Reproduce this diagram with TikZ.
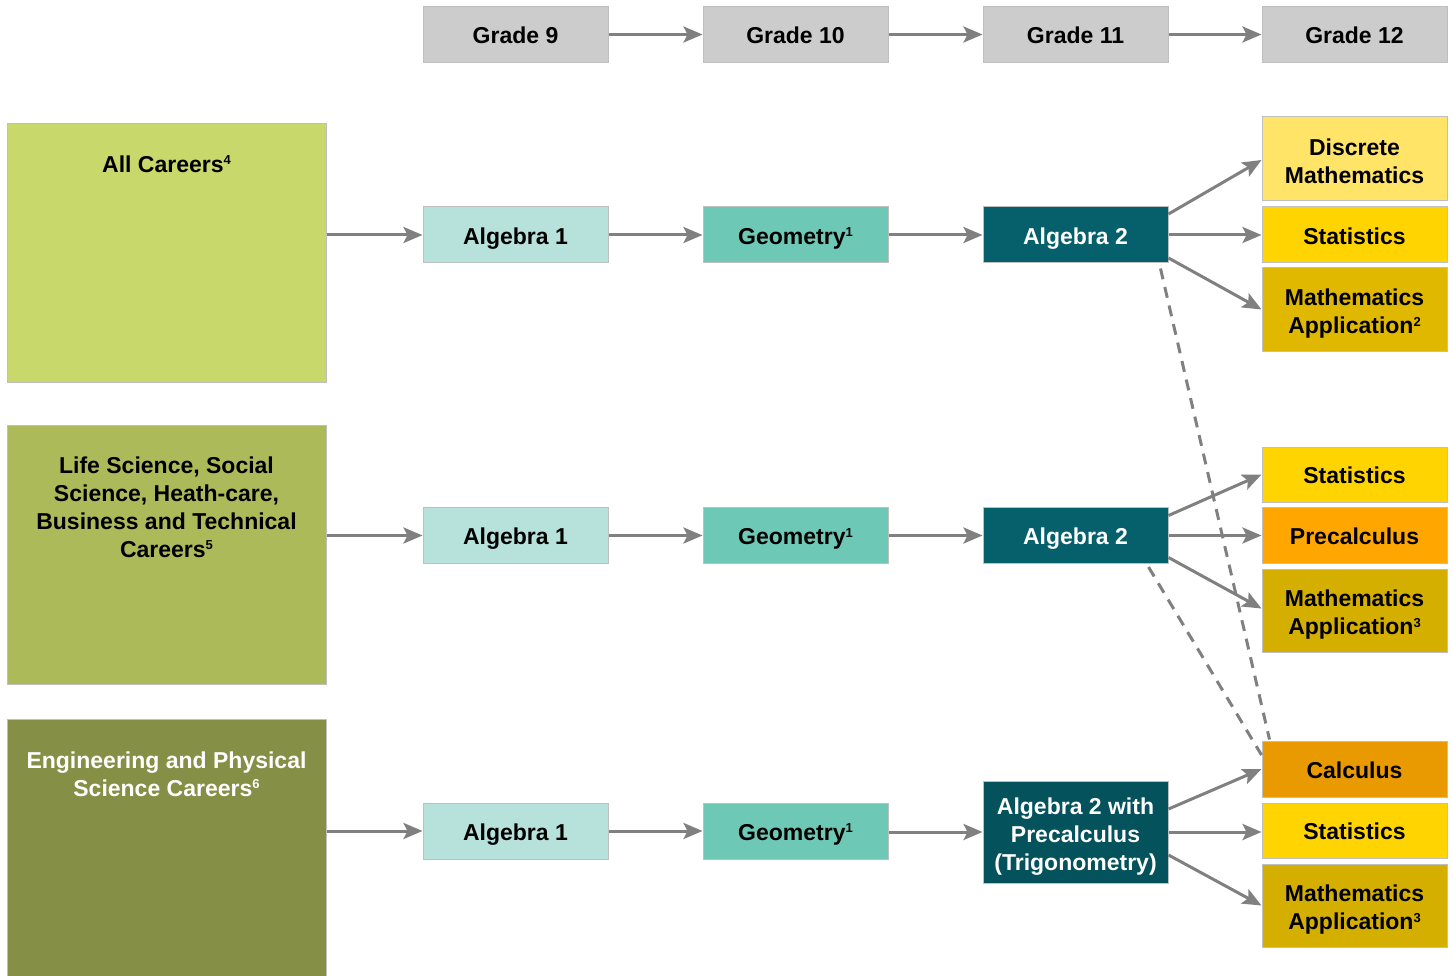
\documentclass[tikz,border=0pt]{standalone}
\usepackage{fontspec}
\setmainfont{Liberation Sans}
\usetikzlibrary{arrows.meta,calc}
\definecolor{gradegray}{HTML}{CCCCCC}
\definecolor{boxline}{HTML}{BFBFBF}
\definecolor{arrowgray}{HTML}{808080}
\definecolor{careerA}{HTML}{C8D86A}
\definecolor{careerB}{HTML}{ADBA5A}
\definecolor{careerC}{HTML}{858F45}
\definecolor{algone}{HTML}{B7E2DB}
\definecolor{geom}{HTML}{6EC8B6}
\definecolor{algtwo}{HTML}{06606C}
\definecolor{algtwoprec}{HTML}{03525C}
\definecolor{discrete}{HTML}{FFE468}
\definecolor{stats}{HTML}{FFD400}
\definecolor{mappA}{HTML}{E0B800}
\definecolor{mappB}{HTML}{D4AF00}
\definecolor{precalc}{HTML}{FFA600}
\definecolor{calc}{HTML}{E89A00}
\newcommand\mysup[1]{\smash{\raisebox{7.5pt}{\fontsize{13}{13}\selectfont #1}}}
\begin{document}
\begin{tikzpicture}[x=1pt,y=-1pt,
  every node/.style={font=\fontsize{23}{28}\selectfont\bfseries},
  cbox/.style={draw=boxline, line width=1pt, minimum width=185pt, minimum height=56pt, inner sep=0pt, text height=18.5pt, text depth=0pt},
  mbox/.style={draw=boxline, line width=1pt, minimum width=185pt, minimum height=56pt, inner sep=0pt},
  mtext/.style={align=center, inner sep=0pt},
  careerbox/.style={draw=boxline, line width=1pt, minimum width=319pt, inner sep=0pt},
  arr/.style={draw=arrowgray, line width=3pt, -{Stealth[length=19pt,width=16pt,inset=4pt]}},
  dsh/.style={draw=arrowgray, line width=3pt, dash pattern=on 11pt off 8pt}
]
\useasboundingbox (0,0) rectangle (1453,976);
% grades
\node[cbox, fill=gradegray] (g9) at (515.5,34.5) {Grade 9};
\node[cbox, fill=gradegray] (g10) at (795.5,34.5) {Grade 10};
\node[cbox, fill=gradegray] (g11) at (1075.5,34.5) {Grade 11};
\node[cbox, fill=gradegray] (g12) at (1354.5,34.5) {Grade 12};
\draw[arr] (g9) -- (g10);
\draw[arr] (g10) -- (g11);
\draw[arr] (g11) -- (g12);
% career boxes
\node[careerbox, fill=careerA, minimum height=258pt] (k1) at (166.5,253) {};
\node[careerbox, fill=careerB, minimum height=259pt] (k2) at (166.5,554.5) {};
\node[careerbox, fill=careerC, minimum height=260pt] (k3) at (166.5,849) {};
\node[align=center] (k1t) at (166.5,164) {All Careers\mysup{4}};
\node[align=center] (k2t) at (166.5,507) {Life Science, Social\\Science, Heath-care,\\Business and Technical\\Careers\mysup{5}};
\node[align=center, text=white] (k3t) at (166.5,774) {Engineering and Physical\\Science Careers\mysup{6}};
% row 1
\node[cbox, fill=algone] (a1) at (515.5,235) {Algebra 1};
\node[cbox, fill=geom] (m1) at (795.5,235) {Geometry\mysup{1}};
\node[cbox, fill=algtwo, text=white] (b1) at (1075.5,235) {Algebra 2};
\node[mbox, fill=discrete, minimum height=84pt] (r11) at (1354.5,159) {};
\node[mtext] (r11t) at ($(r11.center)+(0,2)$) {Discrete\\Mathematics};
\node[cbox, fill=stats] (r12) at (1354.5,235) {Statistics};
\node[mbox, fill=mappA, minimum height=83pt] (r13) at (1354.5,309.5) {};
\node[mtext] (r13t) at ($(r13.center)+(0,4.5)$) {Mathematics\\Application\mysup{2}};
% row 2
\node[cbox, fill=algone] (a2) at (515.5,535.5) {Algebra 1};
\node[cbox, fill=geom] (m2) at (795.5,535.5) {Geometry\mysup{1}};
\node[cbox, fill=algtwo, text=white] (b2) at (1075.5,535.5) {Algebra 2};
\node[cbox, fill=stats, minimum height=55pt] (r21) at (1354.5,474.5) {Statistics};
\node[cbox, fill=precalc] (r22) at (1354.5,535.5) {Precalculus};
\node[mbox, fill=mappB, minimum height=83pt] (r23) at (1354.5,610.5) {};
\node[mtext] (r23t) at ($(r23.center)+(0,4.5)$) {Mathematics\\Application\mysup{3}};
% row 3
\node[cbox, fill=algone] (a3) at (515.5,831) {Algebra 1};
\node[cbox, fill=geom] (m3) at (795.5,831) {Geometry\mysup{1}};
\node[mbox, fill=algtwoprec, minimum height=102pt] (b3) at (1075.5,832) {};
\node[mtext, text=white] (b3t) at ($(b3.center)+(0,4.5)$) {Algebra 2 with\\Precalculus\\(Trigonometry)};
\node[cbox, fill=calc] (r31) at (1354.5,769) {Calculus};
\node[cbox, fill=stats, minimum height=55pt] (r32) at (1354.5,830.5) {Statistics};
\node[mbox, fill=mappB, minimum height=83pt] (r33) at (1354.5,905.5) {};
\node[mtext] (r33t) at ($(r33.center)+(0,4.5)$) {Mathematics\\Application\mysup{3}};
% arrows from careers
\draw[arr] (k1.east |- a1.west) -- (a1.west);
\draw[arr] (k2.east |- a2.west) -- (a2.west);
\draw[arr] (k3.east |- a3.west) -- (a3.west);
% row arrows
\draw[arr] (a1) -- (m1);
\draw[arr] (m1) -- (b1);
\draw[arr] (a2) -- (m2);
\draw[arr] (m2) -- (b2);
\draw[arr] (a3) -- (m3);
\draw[arr] (m3.east |- b3.west) -- (b3.west);
% branches row 1
\draw[arr] ($(b1.east)+(0,-21)$) -- ($(r11.west)+(0,1)$);
\draw[arr] (b1.east) -- (r12.west);
\draw[arr] ($(b1.east)+(0,23)$) -- (r13.west);
% branches row 2
\draw[arr] ($(b2.east)+(0,-20)$) -- (r21.west);
\draw[arr] (b2.east) -- (r22.west);
\draw[arr] ($(b2.east)+(0,22)$) -- ($(r23.west)+(0,-2)$);
% branches row 3
\draw[arr] ($(b3.east)+(0,-23)$) -- (r31.west);
\draw[arr] (b3.east) -- (b3.east -| r32.west);
\draw[arr] ($(b3.east)+(0,23)$) -- (r33.west);
% dashed
\draw[dsh] ($(b1.south east)+(-8,5)$) -- ($(r31.north west)+(8,-1)$);
\draw[dsh] ($(b2.south east)+(-20,3)$) -- ($(r31.west)+(0,-14)$);
\end{tikzpicture}
\end{document}
